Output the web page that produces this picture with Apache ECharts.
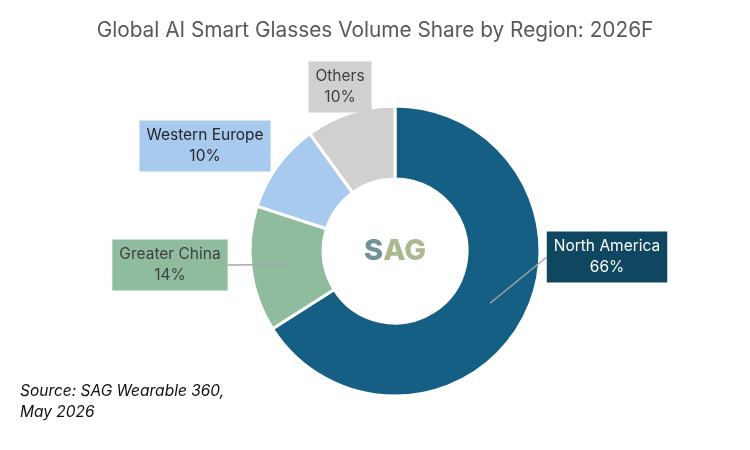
<!DOCTYPE html>
<html>
<head>
<meta charset="utf-8">
<script src="https://cdn.jsdelivr.net/npm/echarts@6/dist/echarts.min.js"></script>
<style>
  html, body { margin: 0; padding: 0; background: #fff; }
  #chart { width: 750px; height: 450px; }
</style>
</head>
<body>
<div id="chart"></div>
<script>
// data
const regions = ['North America', 'Greater China', 'Western Europe', 'Others'];
const shares = [66, 14, 10, 10];
const sliceColors = ['#165F84', '#8FBC9F', '#A7CAEE', '#D0D0D0'];
const labelBg = ['#0F4761', '#8FBC9F', '#A7CAEE', '#D0D0D0'];
const labelText = ['#FFFFFF', '#404040', '#262626', '#404040'];
// label box centres (px)
const labelPos = [[607, 257], [170, 265], [205, 146], [340, 87]];
const withLine = [true, true, false, false];

const cx = 395, cy = 251, rIn = 72, rOut = 145;
const total = shares.reduce((a, b) => a + b, 0);
const leaderPts = [];

// mid point of each slice, used as the leader line start
function anchorOf(i) {
  let before = 0;
  for (let k = 0; k < i; k++) before += shares[k];
  const ang = (before + shares[i] / 2) / total * Math.PI * 2;
  const r = (rIn + rOut) / 2;
  return [cx + r * Math.sin(ang), cy - r * Math.cos(ang)];
}

const chart = echarts.init(document.getElementById('chart'));

const option = {
  animation: false,
  title: {
    text: 'Global AI Smart Glasses Volume Share by Region: 2026F',
    left: 'center',
    top: 15,
    textStyle: { fontFamily: 'Inter', fontSize: 20.8, fontWeight: 'normal', color: '#595959' }
  },
  graphic: [
    {
      id: 'source',
      type: 'text',
      left: 20,
      top: 381,
      style: {
        text: 'Source: SAG Wearable 360,\nMay 2026',
        font: 'italic 15.5px Inter',
        lineHeight: 21,
        fill: '#111'
      }
    },
    {
      id: 'logo',
      type: 'text',
      x: cx,
      y: cy,
      style: {
        text: '{s|S}{a|AG}',
        align: 'center',
        verticalAlign: 'middle',
        rich: {
          s: { fontFamily: 'Inter', fontWeight: 800, fontSize: 29, fill: '#72929A' },
          a: { fontFamily: 'Inter', fontWeight: 800, fontSize: 29, fill: '#AAB98F' }
        }
      }
    }
  ],
  series: [{
    type: 'pie',
    center: [cx, cy],
    radius: [rIn, rOut],
    startAngle: 90,
    clockwise: true,
    itemStyle: { borderColor: '#fff', borderWidth: 3 },
    label: {
      show: true,
      position: 'outside',
      formatter: '{b}\n{c}%',
      fontFamily: 'Inter',
      fontSize: 15.5,
      lineHeight: 21,
      padding: [5, 7, 4, 7]
    },
    labelLine: { show: false },
    labelLayout: function (params) {
      const i = params.dataIndex;
      const p = labelPos[i];
      if (withLine[i]) {
        const a = anchorOf(i);
        const w = params.labelRect.width;
        const ex = a[0] < p[0] ? p[0] - w / 2 : p[0] + w / 2;
        leaderPts[i] = [a, [ex, p[1]]];
      }
      return { x: p[0], y: p[1], align: 'center', verticalAlign: 'middle' };
    },
    data: regions.map((name, i) => ({
      name: name,
      value: shares[i],
      itemStyle: { color: sliceColors[i] },
      label: { backgroundColor: labelBg[i], color: labelText[i] }
    }))
  }]
};

chart.setOption(option);

// leader lines drawn on top of the slices (Excel style)
const lines = [];
leaderPts.forEach((pts, i) => {
  if (!pts) return;
  lines.push({
    id: 'lead' + i,
    type: 'polyline',
    z: 100,
    shape: { points: pts },
    style: { stroke: '#A6A6A6', lineWidth: 1.5, fill: null }
  });
});
chart.setOption({ graphic: lines });
</script>
</body>
</html>
